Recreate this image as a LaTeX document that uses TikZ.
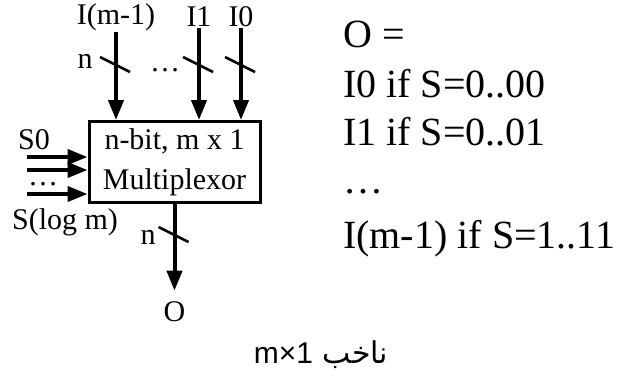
\documentclass[tikz,border=0pt]{standalone}
\usepackage{fontspec}
\setmainfont{Liberation Serif}
\newfontfamily\capfont{Liberation Sans}
\newfontfamily\arabicfont[Script=Arabic]{DejaVu Sans}
\TeXXeTstate=1
\usetikzlibrary{arrows.meta}
\begin{document}
\begin{tikzpicture}[x=1pt,y=-1pt,every node/.style={inner sep=1pt}]
\tikzstyle{bus}=[draw,line width=4pt,-{Triangle[length=20pt,width=15pt]}]
\tikzstyle{slash}=[draw,line width=2.5pt]
\tikzstyle{lbl}=[font=\fontsize{30}{36}\selectfont]
\tikzstyle{eq}=[anchor=base west,font=\fontsize{40}{48}\selectfont]
\useasboundingbox (0,0) rectangle (617,378);

\node[draw,line width=3pt,minimum width=171pt,minimum height=81pt,align=center,
  font=\fontsize{30}{40}\selectfont](mux) at (174.5,162){n-bit, m x 1\\Multiplexor};

% data inputs
\node[lbl](im) at (116,17){I(m-1)};
\node[lbl](i1) at (199,17){I1};
\node[lbl](i0) at (241,17){I0};
\path[bus](im.south)--(im.south|-mux.north);
\path[bus](i1.south)--(i1.south|-mux.north);
\path[bus](i0.south)--(i0.south|-mux.north);

\coordinate(cm) at (116,64);
\coordinate(c1) at (199,64);
\coordinate(c0) at (241,64);
\path[slash](cm)+(-16,-7)--+(14,8);
\path[slash](c1)+(-16,-7)--+(14,8);
\path[slash](c0)+(-16,-7)--+(14,8);
\node[lbl](nin) at (85,61){n};
\node[lbl](din) at (165,70){\dots};

% select inputs
\node[lbl](s0) at (34,140){S0};
\node[lbl](sd) at (43,184){\dots};
\node[lbl](sl) at (65,222){S(log m)};
\coordinate(sa) at (27,157);
\coordinate(sb) at (27,170);
\coordinate(sc) at (27,194);
\path[bus](sa)--(sa-|mux.west);
\path[bus](sb)--(sb-|mux.west);
\path[bus](sc)--(sc-|mux.west);

% output
\node[lbl](out) at (174.5,312){O};
\path[bus,shorten >=10pt](mux.south)--(out.north);
\coordinate(co) at (174.5,234);
\path[slash](co)+(-16,-7)--+(14,8);
\node[lbl](nout) at (148,237){n};

% truth
\node[eq](eq0) at (342,47){O =};
\node[eq](eq1) at (342,97){I0 if S=0..00};
\node[eq](eq2) at (342,145){I1 if S=0..01};
\node[eq](eq3) at (342,193){\dots};
\node[eq](eq4) at (342,248){I(m-1) if S=1..11};

\node[anchor=base,font=\fontsize{30}{36}\selectfont](cap) at (321,363)
  {\arabicfont\beginR ناخب \beginL{\capfont m×1}\endL\endR};
\end{tikzpicture}
\end{document}
